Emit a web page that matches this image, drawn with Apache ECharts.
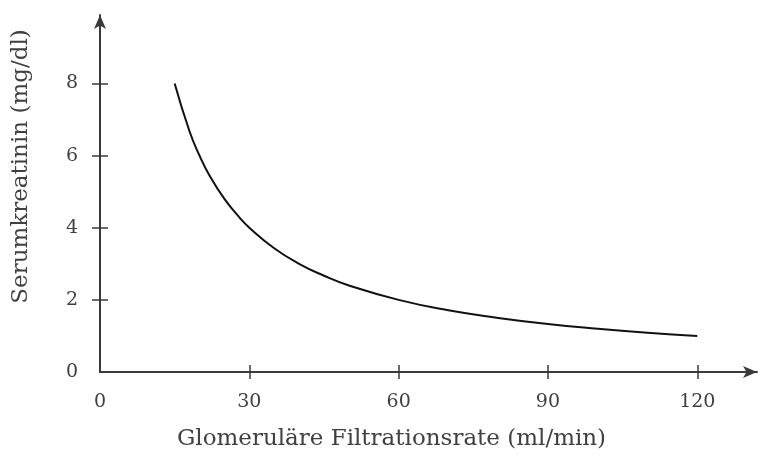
<!DOCTYPE html>
<html>
<head>
<meta charset="utf-8">
<script src="https://cdn.jsdelivr.net/npm/echarts@6/dist/echarts.min.js"></script>
<style>
  html, body { margin: 0; padding: 0; background: #fff; }
  #chart { width: 765px; height: 456px; }
</style>
</head>
<body>
<div id="chart"></div>
<script>
// Glomerular filtration rate (ml/min) against serum creatinine (mg/dl)
const gfrValues = [15, 18, 20, 22, 25, 28, 30, 35, 40, 45, 50, 60, 70, 80, 90, 100, 110, 120];
const creatinineValues = [8.0, 6.67, 6.0, 5.45, 4.8, 4.29, 4.0, 3.43, 3.0, 2.67, 2.4, 2.0, 1.71, 1.5, 1.33, 1.2, 1.09, 1.0];
const xTickValues = [30, 60, 90, 120];
const xLabelValues = [0, 30, 60, 90, 120];
const yTickValues = [2, 4, 6, 8];
const yLabelValues = [0, 2, 4, 6, 8];

const points = gfrValues.map((g, i) => [g, creatinineValues[i]]);

const serif = '"DejaVu Serif", "Liberation Serif", serif';
const axisColor = '#3a3a3a';
const textColor = '#404040';

const xMax = 132;
const yMax = 9.9;

function xAxisBase(inside, main) {
  return {
    type: 'value', min: 0, max: xMax, position: 'bottom',
    axisLine: main ? {
      show: true, symbol: ['none', 'arrow'], symbolSize: [9, 14],
      lineStyle: { color: axisColor, width: 2 }
    } : { show: false },
    axisTick: { show: true, inside: inside, length: 7, customValues: xTickValues,
      lineStyle: { color: axisColor, width: 1.5 } },
    axisLabel: main ? {
      show: true, customValues: xLabelValues, margin: 21,
      fontFamily: serif, fontSize: 19, color: textColor
    } : { show: false },
    splitLine: { show: false },
    name: main ? 'Glomeruläre Filtrationsrate (ml/min)' : '',
    nameLocation: 'middle', nameGap: 56,
    nameTextStyle: { fontFamily: serif, fontSize: 23, color: textColor, padding: [0, 74, 0, 0] }
  };
}

function yAxisBase(inside, main) {
  return {
    type: 'value', min: 0, max: yMax, position: 'left',
    axisLine: main ? {
      show: true, symbol: ['none', 'arrow'], symbolSize: [9, 14],
      lineStyle: { color: axisColor, width: 2 }
    } : { show: false },
    axisTick: { show: true, inside: inside, length: 8, customValues: yTickValues,
      lineStyle: { color: axisColor, width: 1.5 } },
    axisLabel: main ? {
      show: true, customValues: yLabelValues, margin: 22,
      fontFamily: serif, fontSize: 19, color: textColor
    } : { show: false },
    splitLine: { show: false },
    name: main ? 'Serumkreatinin (mg/dl)' : '',
    nameLocation: 'middle', nameGap: 67, nameRotate: 90,
    nameTextStyle: { fontFamily: serif, fontSize: 23, color: textColor, padding: [0, 0, 0, 54] }
  };
}

const chart = echarts.init(document.getElementById('chart'), null, { renderer: 'canvas' });
chart.setOption({
  backgroundColor: '#ffffff',
  animation: false,
  grid: { left: 100, right: 8, top: 15, bottom: 83, containLabel: false },
  xAxis: [xAxisBase(false, true), xAxisBase(true, false)],
  yAxis: [yAxisBase(false, true), yAxisBase(true, false)],
  series: [{
    type: 'line',
    data: points,
    smooth: true,
    showSymbol: false,
    lineStyle: { color: '#111', width: 2 }
  }]
});
</script>
</body>
</html>
